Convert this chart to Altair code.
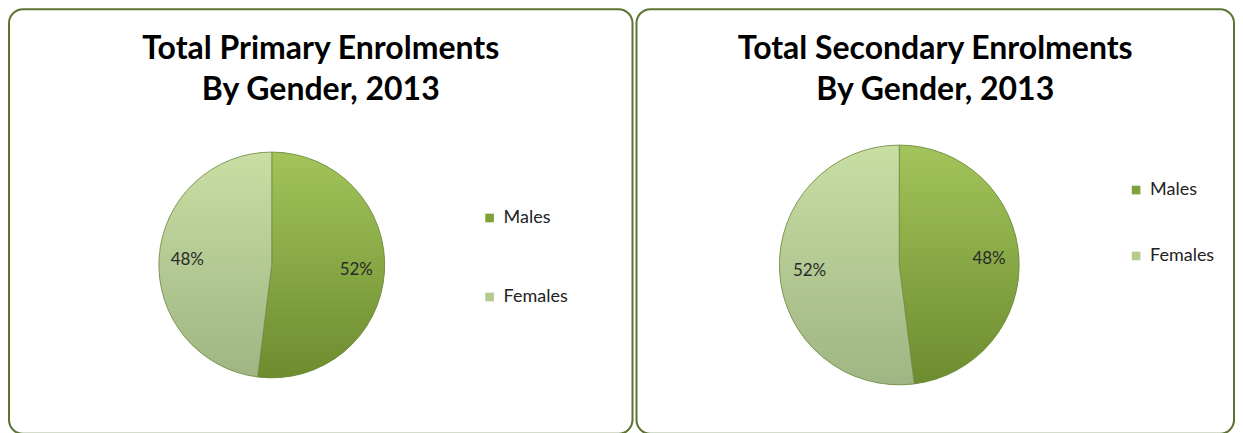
import altair as alt
import pandas as pd

# ---- data ----
categories = ["Males", "Females"]
primary_pct = [52, 48]
secondary_pct = [48, 52]
titles = [
    ["Total Primary Enrolments", "By Gender, 2013"],
    ["Total Secondary Enrolments", "By Gender, 2013"],
]

MALE_TOP, MALE_BOT = "#a2c45a", "#6c8c2f"
FEM_TOP, FEM_BOT = "#c9dea3", "#9fb583"
LEG_COLORS = ["#7ea23a", "#b4cb8d"]
BORDER = "#5c7431"
FONT = "Lato"


def grad(top, bot):
    return alt.Gradient(
        gradient="linear",
        stops=[alt.GradientStop(color=top, offset=0), alt.GradientStop(color=bot, offset=1)],
        x1=0, x2=0, y1=0, y2=1,
    )


def panel(title, values, w, h, cx, cy, r, legx, legy, rowpad):
    df = pd.DataFrame({"gender": categories, "pct": values, "order": list(range(len(categories)))})
    base = (
        alt.Chart(df)
        .transform_stack(stack="pct", groupby=[], as_=["start", "end"], sort=[alt.SortField("order")])
        .transform_calculate(mid="(datum.start + datum.end) / 2", label="datum.pct + '%'")
    )
    theta_scale = alt.Scale(domain=[0, 100])
    pos = dict(x=alt.value(cx), y=alt.value(cy))

    legend_layer = base.mark_arc(radius=r).encode(
        theta=alt.Theta("start:Q", scale=theta_scale),
        theta2="end:Q",
        color=alt.Color(
            "gender:N",
            scale=alt.Scale(domain=categories, range=LEG_COLORS),
            sort=categories,
            legend=alt.Legend(
                title=None, orient="none", legendX=legx, legendY=legy,
                symbolType="square", symbolSize=75, symbolStrokeWidth=0,
                labelFont=FONT, labelFontSize=18, labelColor="#222222",
                labelOffset=5, rowPadding=rowpad, padding=0,
            ),
        ),
        **pos,
    )
    layers = [legend_layer]
    for cat, (top, bot) in zip(categories, [(MALE_TOP, MALE_BOT), (FEM_TOP, FEM_BOT)]):
        layers.append(
            base.transform_filter(alt.datum.gender == cat)
            .mark_arc(radius=r, fill=grad(top, bot), stroke="#6f8a40", strokeWidth=0.8)
            .encode(theta=alt.Theta("start:Q", scale=theta_scale), theta2="end:Q", **pos)
        )
    text = base.mark_text(radius=r * 0.75, font=FONT, fontSize=17, color="#2a2a2a").encode(
        theta=alt.Theta("mid:Q", scale=theta_scale), text="label:N", **pos
    )
    layers.append(text)
    return alt.layer(*layers).properties(
        width=w, height=h,
        title=alt.TitleParams(
            title, anchor="middle", frame="group", offset=-98,
            font=FONT, fontSize=32, fontWeight="bold", color="#000000", lineHeight=41,
        ),
    )


left = panel(titles[0], primary_pct, 624, 425, 263, 256, 113, 472, 200, 61)
right = panel(titles[1], secondary_pct, 598, 425, 263, 256, 120, 491, 172, 48)

chart = (
    alt.hconcat(left, right, spacing=2)
    .resolve_scale(color="independent", theta="independent")
    .resolve_legend(color="independent")
    .properties(padding=0)
    .configure_view(stroke=BORDER, strokeWidth=2, cornerRadius=14)
)

chart.save("out.html", embed_options={"renderer": "svg", "actions": False})
